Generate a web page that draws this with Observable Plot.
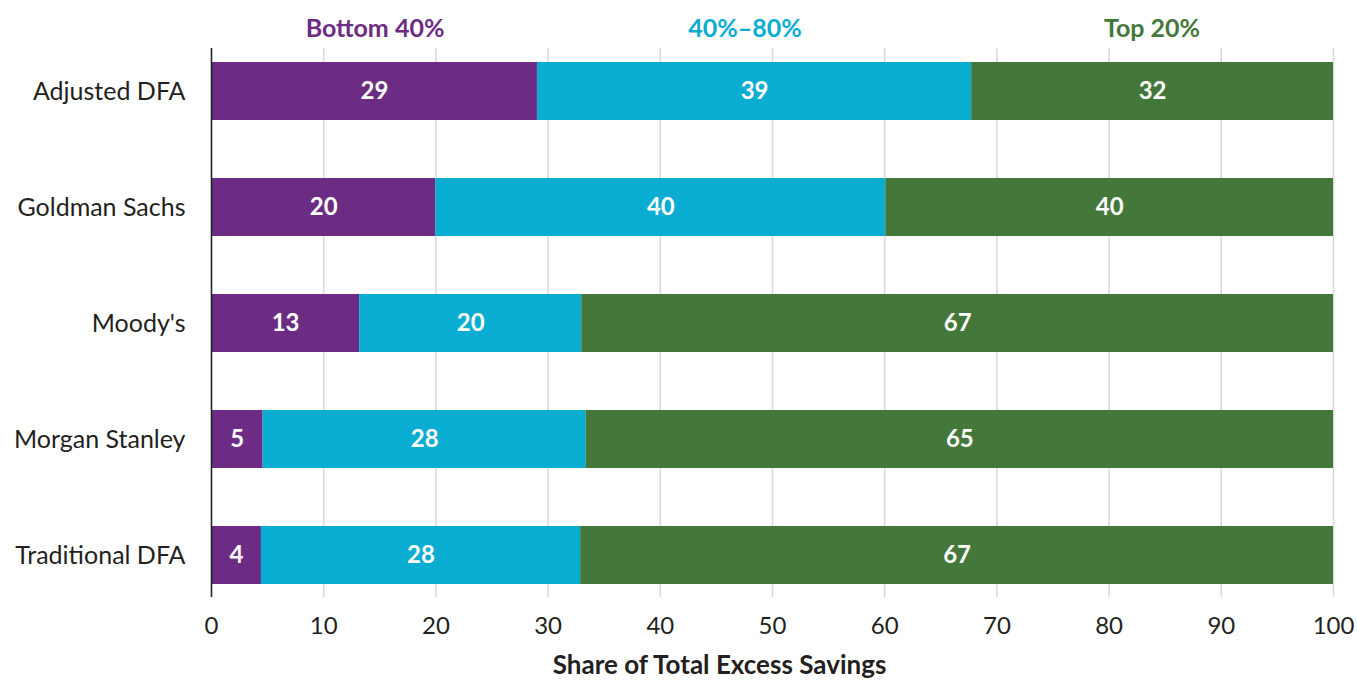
<!DOCTYPE html>
<html>
<head>
<meta charset="utf-8">
<script src="https://cdn.jsdelivr.net/npm/d3@7"></script>
<script src="https://cdn.jsdelivr.net/npm/@observablehq/plot@0.6"></script>
<style>
  html, body { margin: 0; padding: 0; background: #fff; }
  body { width: 1357px; height: 681px; overflow: hidden; font-family: Lato, "Open Sans", sans-serif; }
  #legend { position: relative; height: 48px; width: 1357px; }
  #legend span { position: absolute; top: 12px; transform: translateX(-50%); font-size: 25px; font-weight: 700; white-space: nowrap; line-height: 1.2; }
  #chart svg { display: block; }
</style>
</head>
<body>
<div id="legend"></div>
<div id="chart"></div>
<script>
const categories = ["Adjusted DFA", "Goldman Sachs", "Moody's", "Morgan Stanley", "Traditional DFA"];
const groups = ["Bottom 40%", "40%–80%", "Top 20%"];
const colors = ["#6d2c83", "#0aadd2", "#43783a"];
const bottom40 = [29.05, 20, 13.2, 4.6, 4.45];
const middle40 = [38.7, 40.1, 19.8, 28.8, 28.45];
const top20 = [32.25, 39.9, 67, 66.6, 67.1];
const bottom40Labels = ["29", "20", "13", "5", "4"];
const middle40Labels = ["39", "40", "20", "28", "28"];
const top20Labels = ["32", "40", "67", "65", "67"];
const xTicks = [0, 10, 20, 30, 40, 50, 60, 70, 80, 90, 100];
const xTitle = "Share of Total Excess Savings";
const legendCenters = [375, 745, 1152];

const series = [bottom40, middle40, top20];
const seriesLabels = [bottom40Labels, middle40Labels, top20Labels];
const rows = [];
groups.forEach((g, gi) => {
  categories.forEach((c, ci) => {
    rows.push({category: c, group: g, value: series[gi][ci], label: seriesLabels[gi][ci]});
  });
});

const legend = document.getElementById("legend");
groups.forEach((g, i) => {
  const s = document.createElement("span");
  s.textContent = g;
  s.style.color = colors[i];
  s.style.left = legendCenters[i] + "px";
  legend.appendChild(s);
});

const chart = Plot.plot({
  width: 1357,
  height: 633,
  marginTop: 0,
  marginBottom: 84,
  marginLeft: 211,
  marginRight: 24,
  style: {fontFamily: "Lato, 'Open Sans', sans-serif", fontSize: "24px", color: "#231f20"},
  x: {domain: [0, 100], ticks: xTicks},
  y: {domain: categories, paddingInner: 0.5, paddingOuter: 0.116},
  color: {domain: groups, range: colors},
  marks: [
    Plot.gridX(xTicks, {stroke: "#d9d9d9", strokeOpacity: 1, strokeWidth: 1.5}),
    Plot.barX(rows, Plot.stackX({x: "value", y: "category", fill: "group", order: groups})),
    Plot.text(rows, Plot.stackX({x: "value", y: "category", z: "group", order: groups, text: "label", fill: "white", fontWeight: "bold", fontSize: 24})),
    Plot.ruleX([0], {stroke: "#231f20", strokeWidth: 1.5}),
    Plot.axisY({tickSize: 0, tickPadding: 26, fontSize: 25, label: null}),
    Plot.axisX(xTicks, {tickSize: 0, tickPadding: 19, fontSize: 24, label: null}),
    Plot.text([xTitle], {frameAnchor: "bottom", dx: -53, dy: 76, fontWeight: "bold", fontSize: 26})
  ]
});
document.getElementById("chart").appendChild(chart);
</script>
</body>
</html>
